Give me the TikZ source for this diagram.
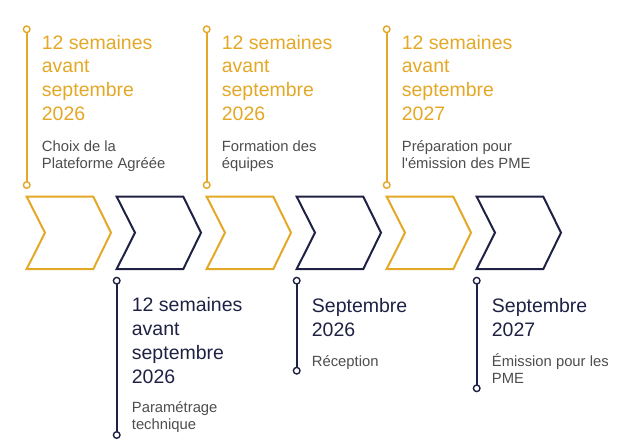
\documentclass[tikz,border=0pt]{standalone}
\usepackage{fontspec}
\setmainfont{Liberation Sans}
\definecolor{gold}{RGB}{228,168,38}
\definecolor{navy}{RGB}{31,33,68}
\definecolor{textgray}{RGB}{77,77,77}
\tikzset{
  chevron/.style={line width=2pt, line join=miter},
  stem/.style={line width=2pt},
  knob/.style={line width=1.4pt, fill=white},
  heading/.style={anchor=base west, inner sep=0pt, align=left,
    font=\fontsize{19.5}{23.9}\selectfont},
  detail/.style={anchor=base west, inner sep=0pt, align=left, text=textgray,
    font=\fontsize{14.8}{16.6}\selectfont},
}
\begin{document}
\begin{tikzpicture}[x=1pt, y=-1pt]
\useasboundingbox (0,0) rectangle (640,447);

% Chevrons
\foreach \x/\col in {26.7/gold, 116.7/navy, 206.7/gold, 296.7/navy, 386.7/gold, 476.7/navy}
  \draw[chevron, \col] (\x,196.7) -- ++(66.6,0) -- ++(17.7,36) -- ++(-17.7,36.3)
    -- ++(-66.6,0) -- ++(18.3,-36.3) -- cycle;

% Stems above
\foreach \n/\x in {a/26.7, c/206.7, e/386.7} {
  \coordinate (\n top) at (\x,29.3);
  \coordinate (\n bot) at (\x,185);
  \draw[stem, gold] (\n top) -- (\n bot);
  \draw[gold, knob] (\n top) circle (3.3);
  \draw[gold, knob] (\n bot) circle (3.3);
}

% Stems below
\foreach \n/\x/\y in {b/116.7/435, d/296.7/370.7, f/476.7/388.3} {
  \coordinate (\n top) at (\x,280.7);
  \coordinate (\n bot) at (\x,\y);
  \draw[stem, navy] (\n top) -- (\n bot);
  \draw[navy, knob] (\n top) circle (3.3);
  \draw[navy, knob] (\n bot) circle (3.3);
}

% Top labels (anchored on the last line)
\node[heading, text=gold] (a head) at (41.7,120.7) {12 semaines\\avant\\septembre\\2026};
\node[detail] (a text) at (41.7,168.3) {Choix de la\\Plateforme Agréée};
\node[heading, text=gold] (c head) at (221.7,120.7) {12 semaines\\avant\\septembre\\2026};
\node[detail] (c text) at (221.7,168.3) {Formation des\\équipes};
\node[heading, text=gold] (e head) at (401.7,120.7) {12 semaines\\avant\\septembre\\2027};
\node[detail] (e text) at (401.7,168.3) {Préparation pour\\l\textquotesingle émission des PME};

% Bottom labels
\node[heading, text=navy] (b head) at (131.7,383.3) {12 semaines\\avant\\septembre\\2026};
\node[detail] (b text) at (131.7,429.3) {Paramétrage\\technique};
\node[heading, text=navy] (d head) at (311.7,336) {Septembre\\2026};
\node[detail] (d text) at (311.7,366.7) {Réception};
\node[heading, text=navy] (f head) at (491.7,336) {Septembre\\2027};
\node[detail] (f text) at (491.7,383.3) {Émission pour les\\PME};
\end{tikzpicture}
\end{document}
